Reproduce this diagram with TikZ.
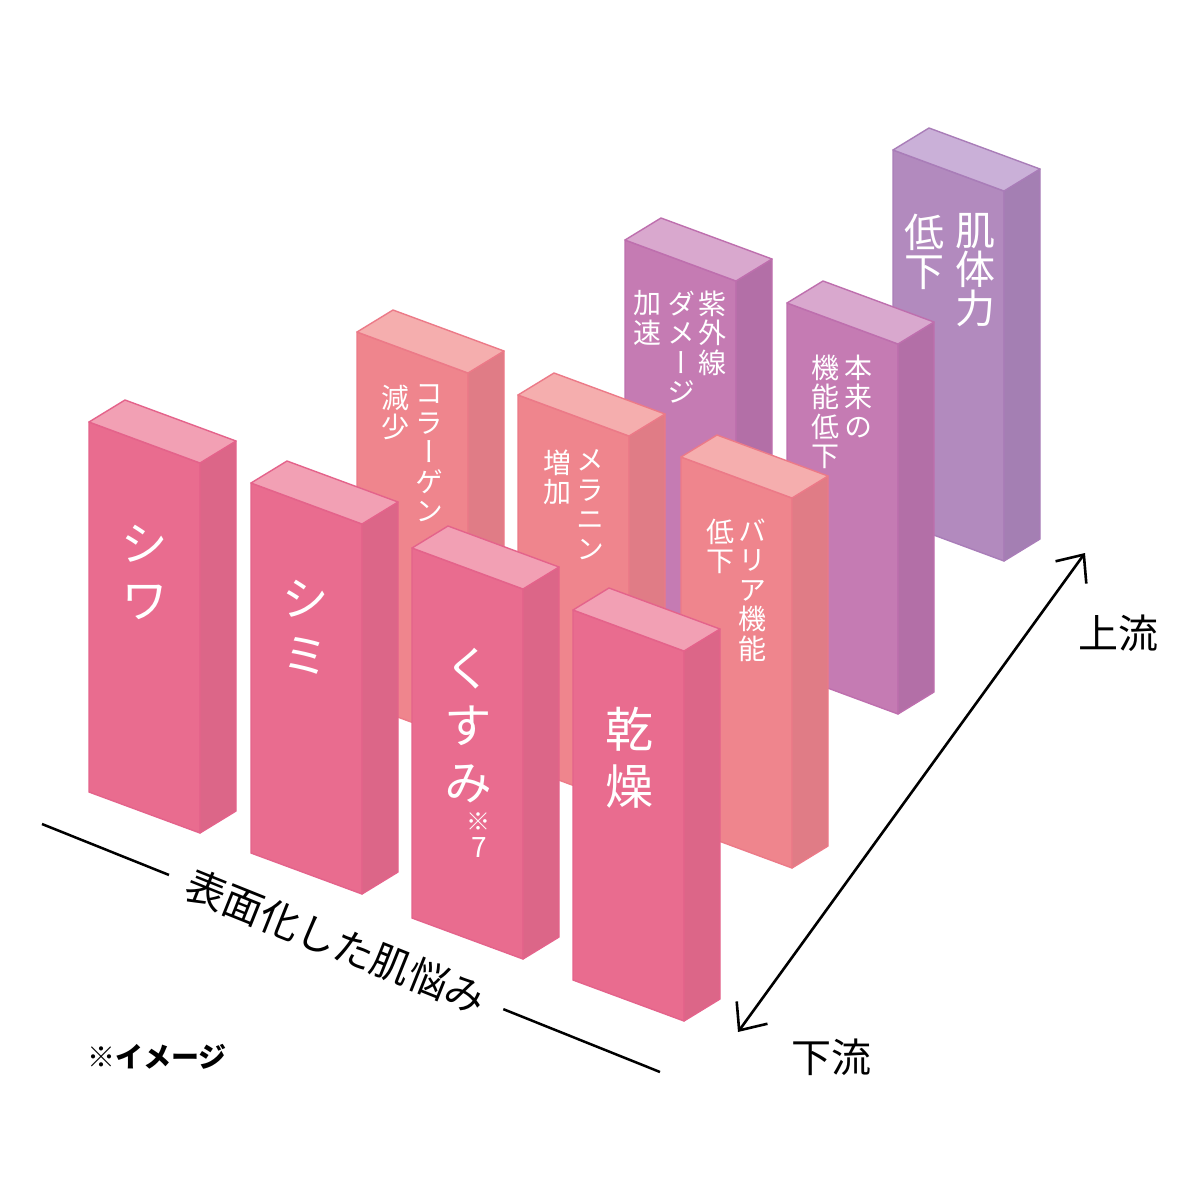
\documentclass[tikz,border=0pt]{standalone}
\usepackage{fontspec}
\usepackage{tikz}
\usetikzlibrary{arrows.meta,calc}

\newfontfamily\jp{Noto Sans CJK JP}
\newfontfamily\jpv[RawFeature=+vert]{Noto Sans CJK JP}

% bar colours: F front, S side, T top, E edge
\definecolor{pinkF}{HTML}{E96C8F}
\definecolor{pinkS}{HTML}{DC6688}
\definecolor{pinkT}{HTML}{F2A0B4}
\definecolor{pinkE}{HTML}{E4638B}
\definecolor{salmonF}{HTML}{EF858D}
\definecolor{salmonS}{HTML}{E07C86}
\definecolor{salmonT}{HTML}{F5AEAE}
\definecolor{salmonE}{HTML}{EC7A88}
\definecolor{mauveF}{HTML}{C57BB3}
\definecolor{mauveS}{HTML}{B36FA7}
\definecolor{mauveT}{HTML}{D9A8CE}
\definecolor{mauveE}{HTML}{BE6FAE}
\definecolor{lilacF}{HTML}{B28ABE}
\definecolor{lilacS}{HTML}{A47FB3}
\definecolor{lilacT}{HTML}{CAB0D8}
\definecolor{lilacE}{HTML}{A97DB8}

% one bar: name, x, y of front top left corner, colour set
\newcommand{\skinbar}[4]{%
  \coordinate (#1) at (#2,#3);
  \filldraw[fill=#4F,draw=#4E] (#1) -- ++(111,41) -- ++(0,370) -- ++(-111,-41) -- cycle;
  \filldraw[fill=#4S,draw=#4E] ($(#1)+(111,41)$) -- ++(36,-22) -- ++(0,370) -- ++(-36,22) -- cycle;
  \filldraw[fill=#4T,draw=#4E] (#1) -- ++(111,41) -- ++(36,-22) -- ++(-111,-41) -- cycle;
}

\begin{document}
\begin{tikzpicture}
        [x=1pt,y=-1pt,line join=round,line width=1.4pt,
        every node/.style={inner sep=0pt},
        vlab/.style={text=white,align=center,anchor=north},
        bigtxt/.style={font=\jpv\fontsize{48}{57}\selectfont},
        midtxt/.style={font=\jpv\fontsize{40}{39}\selectfont},
        smalltxt/.style={font=\jpv\fontsize{28}{29.5}\selectfont},
        axistxt/.style={font=\jp\fontsize{40}{40}\selectfont},
        flow/.style={line width=2.6pt,{Straight Barb[length=22pt,width=38pt]}-{Straight Barb[length=22pt,width=38pt]}}]

        \fill[white] (0,0) rectangle (1200,1200);
        \useasboundingbox (0,0) rectangle (1200,1200);

        % axes
        \coordinate (ax0) at (42,824);
        \coordinate (ax1) at (660,1072);
        \draw[line width=2.5pt] (ax0) -- (ax1)
                node[pos=0.476,sloped,fill=white,inner xsep=20pt,inner ysep=4pt,axistxt] (surface) {表面化した肌悩み};

        \coordinate (down) at (738,1032);
        \coordinate (up) at (1085,553);
        \draw[flow] (down) -- (up);
        \node[axistxt] (upstream) at (1118,633) {上流};
        \node[axistxt] (downstream) at (831,1057) {下流};
        \node[font=\jp\bfseries\fontsize{28}{28}\selectfont] (image) at (157,1057) {※イメージ};

        % back row
        \skinbar{hadatai}{893}{150}{lilac}
        \node[vlab,midtxt] (hadatai-a) at (975,213) {肌\\体\\力};
        \node[vlab,midtxt] (hadatai-b) at (924,213) {低\\下};

        \skinbar{uvdmg}{625}{240}{mauve}
        \node[vlab,smalltxt] (uvdmg-a) at (712,290) {紫\\外\\線};
        \node[vlab,smalltxt] (uvdmg-b) at (681,290) {ダ\\メ\\ー\\ジ};
        \node[vlab,smalltxt] (uvdmg-c) at (647,290) {加\\速};

        \skinbar{honrai}{787}{303}{mauve}
        \node[vlab,smalltxt] (honrai-a) at (858,354) {本\\来\\の};
        \node[vlab,smalltxt] (honrai-b) at (825,354) {機\\能\\低\\下};

        % middle row
        \skinbar{collagen}{357}{332}{salmon}
        \node[vlab,smalltxt] (collagen-a) at (429,384) {コ\\ラ\\ー\\ゲ\\ン};
        \node[vlab,smalltxt] (collagen-b) at (395,384) {減\\少};

        \skinbar{melanin}{518}{395}{salmon}
        \node[vlab,smalltxt] (melanin-a) at (590,449) {メ\\ラ\\ニ\\ン};
        \node[vlab,smalltxt] (melanin-b) at (557,449) {増\\加};

        \skinbar{barrier}{681}{457}{salmon}
        \node[vlab,smalltxt] (barrier-a) at (752,518) {バ\\リ\\ア\\機\\能};
        \node[vlab,smalltxt] (barrier-b) at (720,518) {低\\下};

        % front row
        \skinbar{shiwa}{89}{422}{pink}
        \node[vlab,bigtxt] (shiwa-a) at (144,524) {シ\\ワ};

        \skinbar{shimi}{251}{483}{pink}
        \node[vlab,bigtxt] (shimi-a) at (305,579) {シ\\ミ};

        \skinbar{kusumi}{412}{548}{pink}
        \node[vlab,bigtxt] (kusumi-a) at (468,647) {く\\す\\み};
        \node[text=white,font=\jp\fontsize{24}{24}\selectfont] (kusumi-b) at (478,822) {※};
        \node[text=white,font=\jp\fontsize{28}{28}\selectfont] (kusumi-c) at (479,848) {7};

        \skinbar{kansou}{573}{610}{pink}
        \node[vlab,bigtxt] (kansou-a) at (629,706) {乾\\燥};
\end{tikzpicture}
\end{document}
